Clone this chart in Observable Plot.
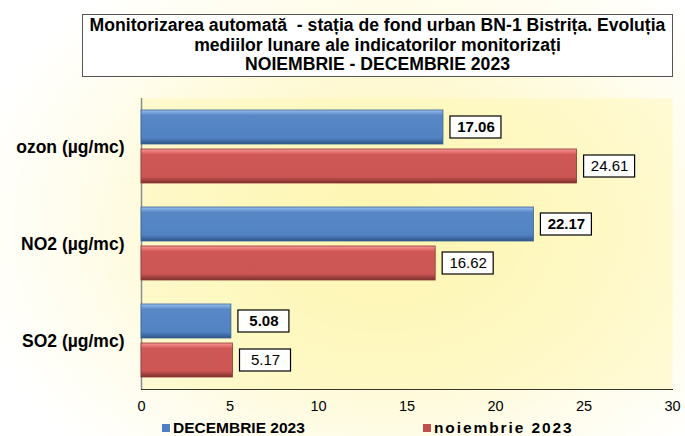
<!DOCTYPE html>
<html>
<head>
<meta charset="utf-8">
<script src="https://cdn.jsdelivr.net/npm/d3@7"></script>
<script src="https://cdn.jsdelivr.net/npm/@observablehq/plot@0.6"></script>
<style>
  html, body { margin: 0; padding: 0; }
  #chart {
    position: relative; width: 685px; height: 436px; overflow: hidden;
    font-family: "Liberation Sans", Arial, sans-serif;
    background: radial-gradient(ellipse 62% 72% at 56% 52%, #fdf5b0 0%, #fef9d2 45%, #fffdee 75%, #ffffff 100%);
  }
  #title {
    position: absolute; left: 82px; top: 14px; width: 591px; height: 63px;
    box-sizing: border-box; border: 1.5px solid #555; background: #ffffff;
    font-weight: bold; font-size: 17.6px; line-height: 19.5px; text-align: center;
    padding-top: 1px; color: #000; white-space: nowrap;
  }
  #plot { position: absolute; left: 0; top: 90px; }
  #legend { position: absolute; left: 0; top: 419px; width: 685px; height: 17px; font-weight: bold; font-size: 15.5px; line-height: 17px; color: #000; }
  #legend .item { position: absolute; top: 0; white-space: nowrap; }
  #legend .sw { display: inline-block; width: 8px; height: 8px; margin-right: 3px; vertical-align: 1px; }
  #plot svg [aria-label^="fy-axis"] text { font-weight: bold; font-size: 17.5px; }
  #plot svg [aria-label^="x-axis"] text { font-size: 14.5px; }
</style>
</head>
<body>
<div id="chart">
  <div id="title">Monitorizarea automată&nbsp; - stația de fond urban BN-1 Bistrița. Evoluția<br>mediilor lunare ale indicatorilor monitorizați<br>NOIEMBRIE - DECEMBRIE 2023</div>
  <div id="plot"></div>
  <div id="legend"></div>
</div>
<script>
const categories = ["ozon (µg/mc)", "NO2 (µg/mc)", "SO2 (µg/mc)"];
const series = ["DECEMBRIE 2023", "noiembrie 2023"];
const decValues = [17.06, 22.17, 5.08];
const novValues = [24.61, 16.62, 5.17];
const xTicks = [0, 5, 10, 15, 20, 25, 30];

const decData = categories.map((c, i) => ({category: c, series: series[0], value: decValues[i]}));
const novData = categories.map((c, i) => ({category: c, series: series[1], value: novValues[i]}));

const lbl = d => d.value.toFixed(2);

const plot = Plot.plot({
  width: 685,
  height: 330,
  marginLeft: 141,
  marginRight: 13,
  marginTop: 7,
  marginBottom: 30,
  style: {fontFamily: "Liberation Sans, Arial, sans-serif", fontSize: "14px", background: "transparent", color: "#000"},
  x: {domain: [0, 30], ticks: xTicks, tickSize: 0, tickPadding: 11, label: null, line: true},
  y: {domain: series, paddingInner: 0.127, paddingOuter: 0.297, axis: null},
  fy: {domain: categories, padding: 0, axis: "left", label: null, tickSize: 0, tickPadding: 17},
  marks: [
    Plot.frame({fill: "#fff7b0", fillOpacity: 0.45, stroke: null}),
    Plot.ruleX([0], {stroke: "#8c8c8c", strokeWidth: 1.5}),
    Plot.barX(decData, {x: "value", y: "series", fy: "category", fill: "url(#gBlue)", stroke: "#3a6394", strokeWidth: 0.8}),
    Plot.barX(novData, {x: "value", y: "series", fy: "category", fill: "url(#gRed)", stroke: "#8e3533", strokeWidth: 0.8}),
    Plot.barX(decData, {x1: "value", x2: "value", y: "series", fy: "category", insetLeft: 7, insetRight: -58, insetTop: 6, insetBottom: 6, fill: "#fff", stroke: "#000", strokeWidth: 1.2}),
    Plot.barX(novData, {x1: "value", x2: "value", y: "series", fy: "category", insetLeft: 7, insetRight: -58, insetTop: 6, insetBottom: 6, fill: "#fff", stroke: "#000", strokeWidth: 1.2}),
    Plot.text(decData, {x: "value", y: "series", fy: "category", text: lbl, dx: 32.5, fontWeight: "bold", fontSize: 15, fill: "#000"}),
    Plot.text(novData, {x: "value", y: "series", fy: "category", text: lbl, dx: 32.5, fontSize: 15, fill: "#000"})
  ]
});

const svg = plot.tagName.toLowerCase() === "svg" ? plot : plot.querySelector("svg");
const ns = "http://www.w3.org/2000/svg";
const defs = document.createElementNS(ns, "defs");
defs.innerHTML = `
  <linearGradient id="gBlue" x1="0" y1="0" x2="0" y2="1">
    <stop offset="0" stop-color="#9cc0ec"/>
    <stop offset="0.1" stop-color="#6e9bd6"/>
    <stop offset="0.16" stop-color="#5887c6"/>
    <stop offset="0.82" stop-color="#5182c2"/>
    <stop offset="0.9" stop-color="#416fa9"/>
    <stop offset="1" stop-color="#2f5485"/>
  </linearGradient>
  <linearGradient id="gRed" x1="0" y1="0" x2="0" y2="1">
    <stop offset="0" stop-color="#f79a98"/>
    <stop offset="0.1" stop-color="#e26f6d"/>
    <stop offset="0.16" stop-color="#cf5856"/>
    <stop offset="0.82" stop-color="#cb5654"/>
    <stop offset="0.9" stop-color="#a84543"/>
    <stop offset="1" stop-color="#7d302e"/>
  </linearGradient>`;
svg.insertBefore(defs, svg.firstChild);
svg.querySelectorAll('[aria-label^="x-axis"] path, [aria-label^="x-axis"] line').forEach(e => { e.setAttribute("stroke", "#8c8c8c"); e.setAttribute("stroke-width", "1.5"); });
document.getElementById("plot").appendChild(plot);

const legend = document.getElementById("legend");
const legendColors = ["#4f7fc0", "#c0504d"];
const legendLeft = [162, 423];
const legendSpacing = ["0px", "1.9px"];
series.forEach((s, i) => {
  const item = document.createElement("span");
  item.className = "item";
  item.style.left = legendLeft[i] + "px";
  item.style.letterSpacing = legendSpacing[i];
  item.innerHTML = `<span class="sw" style="background:${legendColors[i]}"></span>${s}`;
  legend.appendChild(item);
});
</script>
</body>
</html>
